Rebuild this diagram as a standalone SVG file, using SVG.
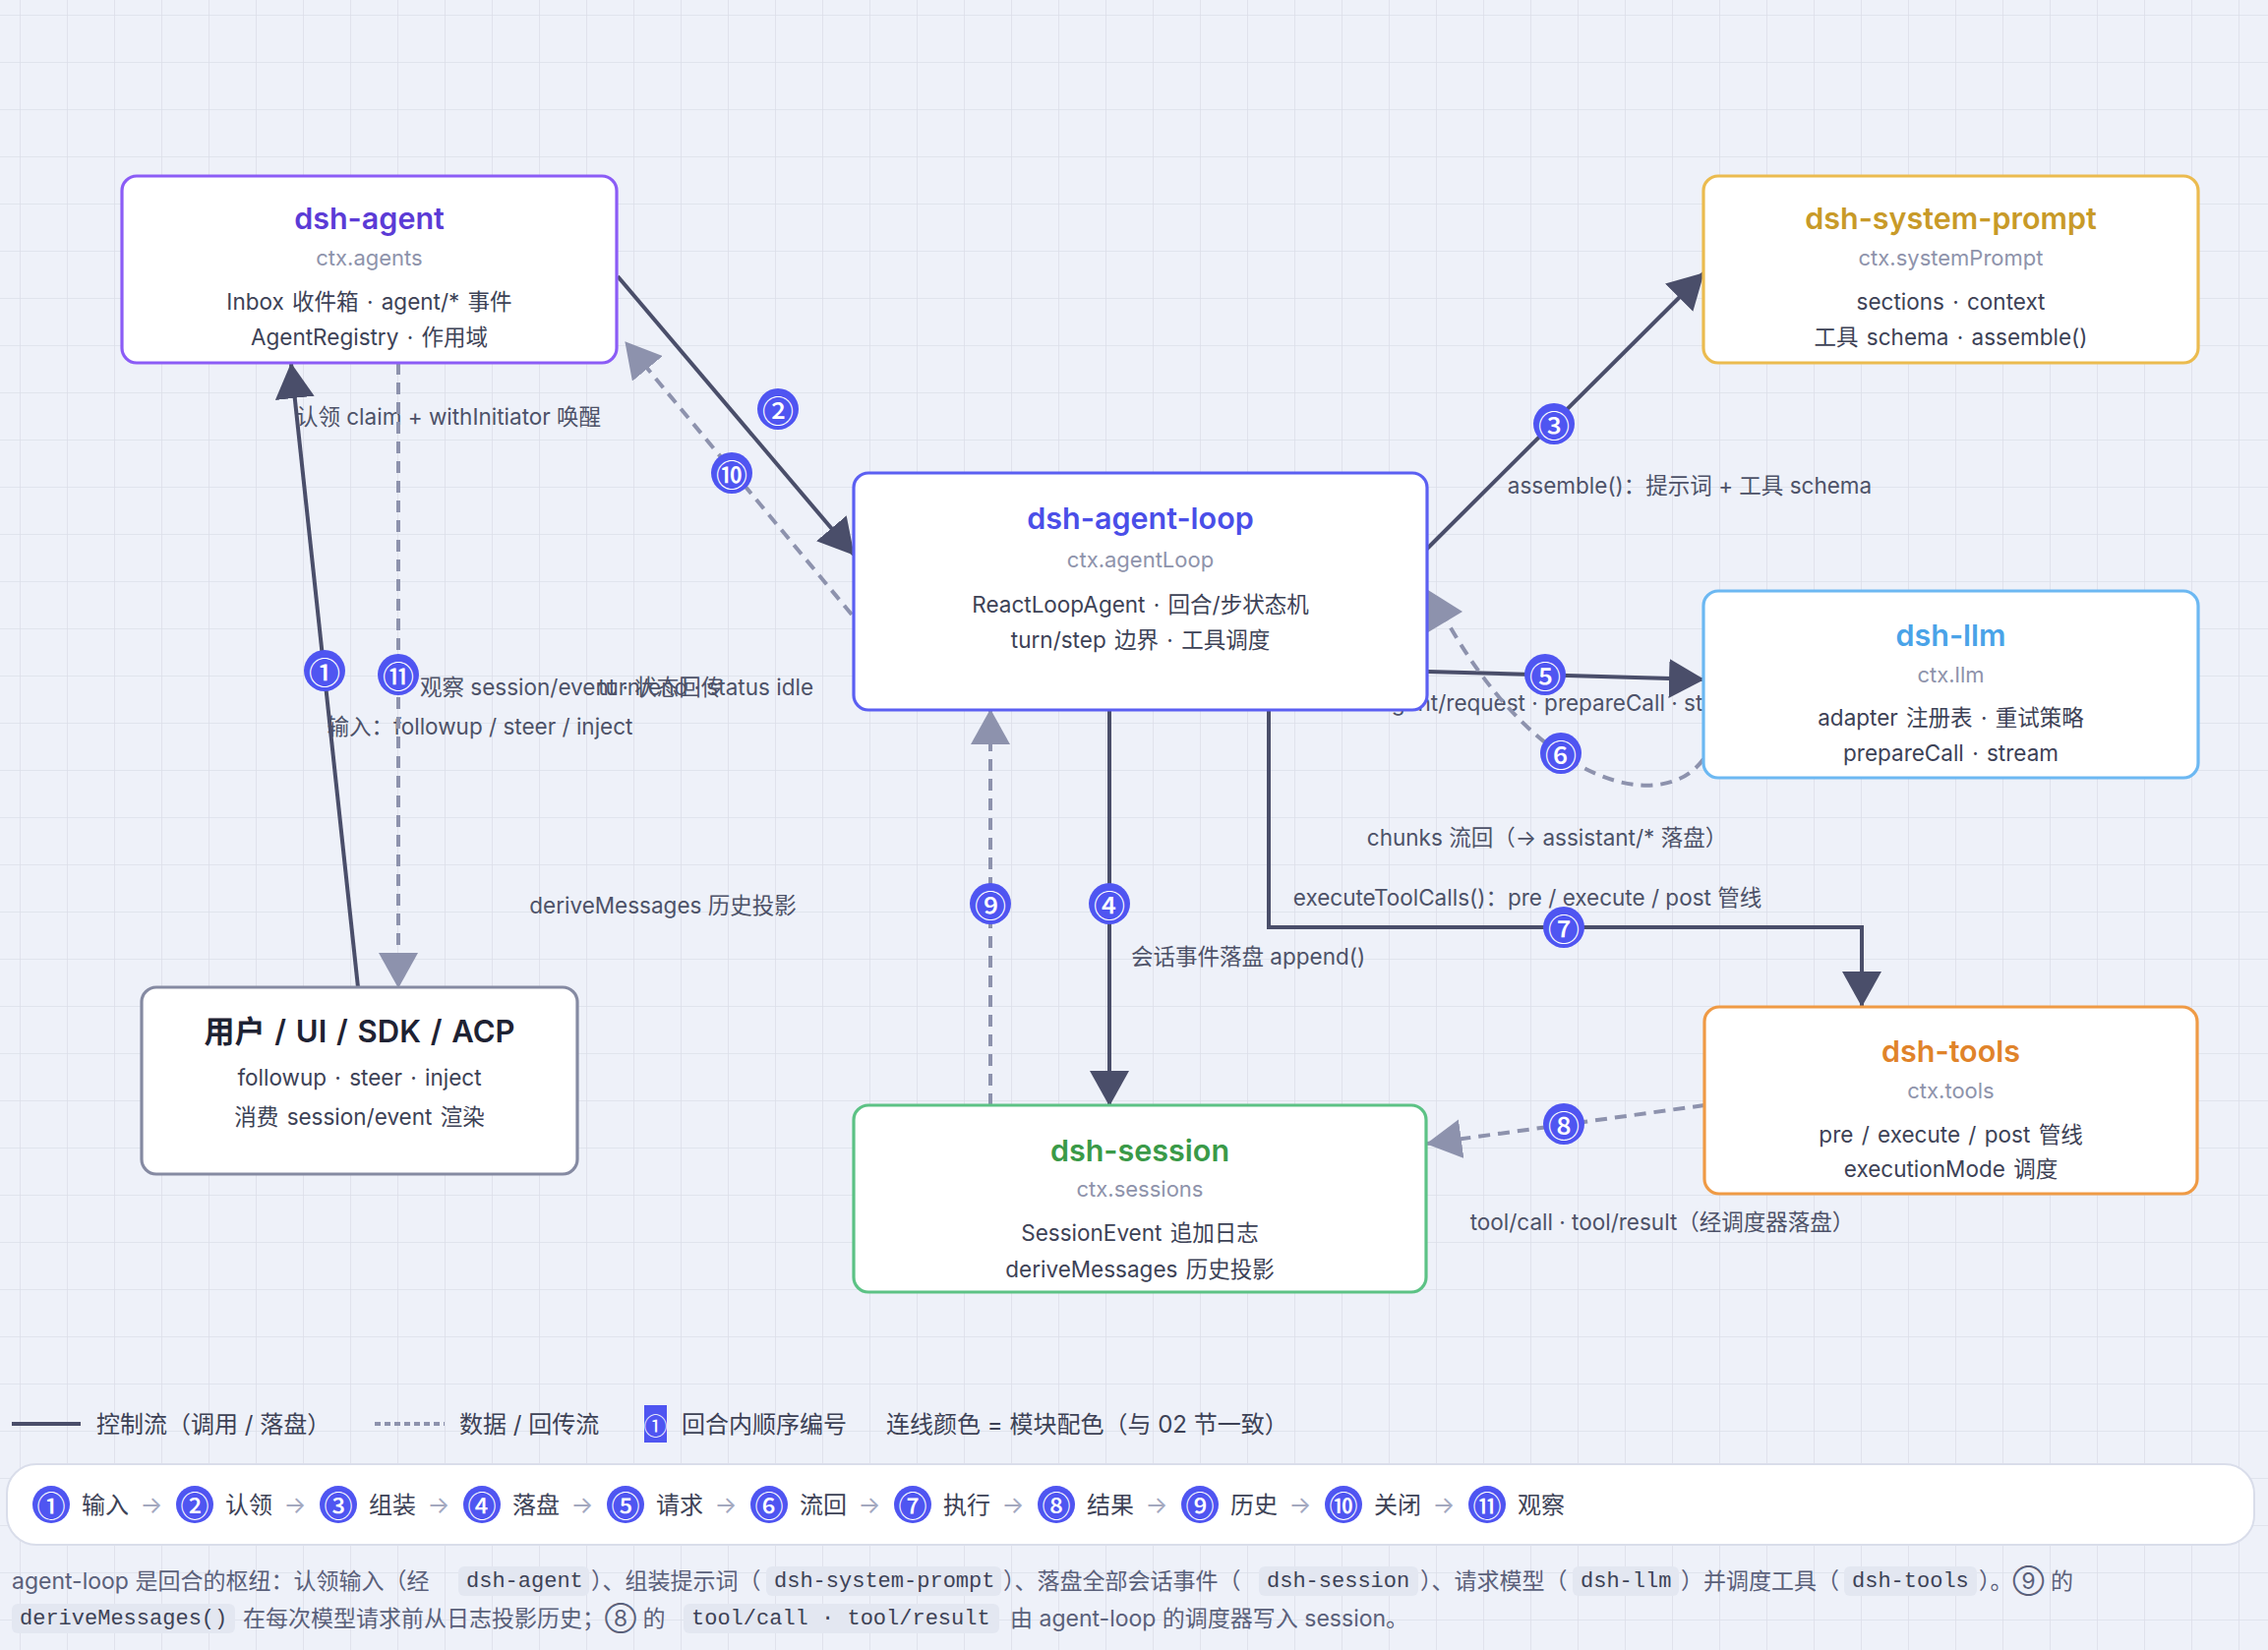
<svg xmlns="http://www.w3.org/2000/svg" width="2306" height="1678" viewBox="0 0 2306 1678">
<defs>
<pattern id="grid" x="20" y="15" width="48" height="48" patternUnits="userSpaceOnUse">
<path d="M48 0 H0 V48" fill="none" stroke="#dcdfe9" stroke-width="1.6"/>
</pattern>
<marker id="ah" markerUnits="userSpaceOnUse" markerWidth="36" markerHeight="40" refX="35" refY="20" orient="auto"><path d="M0,0 L36,20 L0,40 z" fill="#4a4e6a"/></marker>
<marker id="ahd" markerUnits="userSpaceOnUse" markerWidth="36" markerHeight="40" refX="35" refY="20" orient="auto"><path d="M0,0 L36,20 L0,40 z" fill="#8d92ad"/></marker>
<style>
text{font-family:Inter,"Noto Sans CJK SC",sans-serif;dominant-baseline:central}
.box{fill:#ffffff;stroke-width:3.2}
.title{font-size:30.5px;font-weight:600;text-anchor:middle}
.sub{font-size:22px;fill:#8e93ab;text-anchor:middle}
.ln{font-size:22.5px;fill:#3d4256;text-anchor:middle;word-spacing:2px}
.lbl{font-size:22.5px;fill:#4d5268}
.ctl{fill:none;stroke:#4a4e6a;stroke-width:4;marker-end:url(#ah)}
.dat{fill:none;stroke:#8d92ad;stroke-width:4;stroke-dasharray:12 8;marker-end:url(#ahd)}
.bdg circle{fill:#4f55f1}
.bdg text{fill:#ffffff;font-family:"Noto Sans CJK SC",sans-serif;font-size:32px;font-weight:500;text-anchor:middle}
.seq circle{fill:#4f55f1}
.seq .n{fill:#ffffff;font-family:"Noto Sans CJK SC",sans-serif;font-size:29px;font-weight:500;text-anchor:middle}
.seq .t{font-size:24px;fill:#3d4256}
.seq .a{font-size:24px;fill:#a3a8bf;text-anchor:middle}
.leg{font-size:24px;fill:#3d4256}
.p{font-size:23px;fill:#5a607a}
.code{font-family:"Liberation Mono",monospace;font-size:22px;fill:#3d4256}
.cbg{fill:#e3e7f1}
</style>
</defs>
<rect width="2306" height="1678" fill="#eef1f9"/>
<rect width="2306" height="1678" fill="url(#grid)"/>

<g id="labels">
<text class="lbl" x="456" y="423" text-anchor="middle">认领 claim + withInitiator 唤醒</text>
<text class="lbl" x="488" y="738" text-anchor="middle">输入：followup / steer / inject</text>
<text class="lbl" x="427" y="698">观察 session/event · 状态回传</text>
<text class="lbl" x="827" y="698" text-anchor="end">turn/end · status idle</text>
<text class="lbl" x="1718" y="493" text-anchor="middle">assemble()：提示词 + 工具 schema</text>
<text class="lbl" x="1402" y="714">agent/request · prepareCall · stream</text>
<text class="lbl" x="1573" y="851" text-anchor="middle">chunks 流回（→ assistant/* 落盘）</text>
<text class="lbl" x="1553" y="912" text-anchor="middle">executeToolCalls()：pre / execute / post 管线</text>
<text class="lbl" x="674" y="920" text-anchor="middle">deriveMessages 历史投影</text>
<text class="lbl" x="1150" y="972">会话事件落盘 append()</text>
<text class="lbl" x="1690" y="1242" text-anchor="middle">tool/call · tool/result（经调度器落盘）</text>
</g>

<g id="connectors">
<path class="ctl" d="M364,1004 L296,370"/>
<path class="dat" d="M405,369 V1004"/>
<path class="ctl" d="M628,281 L868,564"/>
<path class="dat" d="M866,625 L636,348"/>
<path class="ctl" d="M1450,559 L1732,278"/>
<path class="ctl" d="M1452,683 L1732,691"/>
<path d="M1732,772 C1690,830 1560,800 1463,617" fill="none" stroke="#8d92ad" stroke-width="4" stroke-dasharray="12 8"/>
<polygon points="1452,600 1452,643 1487,622" fill="#8d92ad"/>
<path class="ctl" d="M1128,722 V1124"/>
<path class="dat" d="M1007,1124 V722"/>
<path class="ctl" d="M1290,722 V943 H1893 V1023"/>
<path class="dat" d="M1733,1124 L1451,1163"/>
</g>

<g id="nodes">
<g id="node-agent">
<rect class="box" x="124" y="179" width="503" height="190" rx="15" stroke="#8b5cf6"/>
<text class="title" x="375.5" y="221" fill="#5b3bd6">dsh-agent</text>
<text class="sub" x="375.5" y="262">ctx.agents</text>
<text class="ln" x="375.5" y="306">Inbox 收件箱 · agent/* 事件</text>
<text class="ln" x="375.5" y="342">AgentRegistry · 作用域</text>
</g>
<g id="node-system-prompt">
<rect class="box" x="1732" y="179" width="503" height="190" rx="15" stroke="#ebbb4f"/>
<text class="title" x="1983.5" y="221" fill="#c89a28">dsh-system-prompt</text>
<text class="sub" x="1983.5" y="262">ctx.systemPrompt</text>
<text class="ln" x="1983.5" y="306">sections · context</text>
<text class="ln" x="1983.5" y="342">工具 schema · assemble()</text>
</g>
<g id="node-agent-loop">
<rect class="box" x="868" y="481" width="583" height="241" rx="15" stroke="#5b5ff2"/>
<text class="title" x="1159.5" y="526" fill="#4a4ee8">dsh-agent-loop</text>
<text class="sub" x="1159.5" y="569">ctx.agentLoop</text>
<text class="ln" x="1159.5" y="614">ReactLoopAgent · 回合/步状态机</text>
<text class="ln" x="1159.5" y="650">turn/step 边界 · 工具调度</text>
</g>
<g id="node-llm">
<rect class="box" x="1732" y="601" width="503" height="190" rx="15" stroke="#6cb8f2"/>
<text class="title" x="1983.5" y="645" fill="#4aa3e8">dsh-llm</text>
<text class="sub" x="1983.5" y="686">ctx.llm</text>
<text class="ln" x="1983.5" y="729">adapter 注册表 · 重试策略</text>
<text class="ln" x="1983.5" y="765">prepareCall · stream</text>
</g>
<g id="node-user">
<rect class="box" x="144" y="1004" width="443" height="190" rx="15" stroke="#858aa2"/>
<text class="title" x="365.5" y="1048" fill="#1e2233" style="font-size:31px;word-spacing:2px">用户 / UI / SDK / ACP</text>
<text class="ln" x="365.5" y="1095">followup · steer · inject</text>
<text class="ln" x="365.5" y="1135">消费 session/event 渲染</text>
</g>
<g id="node-tools">
<rect class="box" x="1733" y="1024" width="501" height="190" rx="15" stroke="#ef9a45"/>
<text class="title" x="1983.5" y="1068" fill="#e0832a">dsh-tools</text>
<text class="sub" x="1983.5" y="1109">ctx.tools</text>
<text class="ln" x="1983.5" y="1153">pre / execute / post 管线</text>
<text class="ln" x="1983.5" y="1188">executionMode 调度</text>
</g>
<g id="node-session">
<rect class="box" x="868" y="1124" width="582" height="190" rx="15" stroke="#5cc285"/>
<text class="title" x="1159" y="1169" fill="#3a9a48">dsh-session</text>
<text class="sub" x="1159" y="1209">ctx.sessions</text>
<text class="ln" x="1159" y="1253">SessionEvent 追加日志</text>
<text class="ln" x="1159" y="1290">deriveMessages 历史投影</text>
</g>
</g>

<g id="badges" class="bdg">
<circle cx="330" cy="682" r="21"/><text x="330" y="682">①</text>
<circle cx="791" cy="416" r="21"/><text x="791" y="416">②</text>
<circle cx="1580" cy="431" r="21"/><text x="1580" y="431">③</text>
<circle cx="1128" cy="919" r="21"/><text x="1128" y="919">④</text>
<circle cx="1571" cy="686" r="21"/><text x="1571" y="686">⑤</text>
<circle cx="1587" cy="766" r="21"/><text x="1587" y="766">⑥</text>
<circle cx="1590" cy="943" r="21"/><text x="1590" y="943">⑦</text>
<circle cx="1590" cy="1143" r="21"/><text x="1590" y="1143">⑧</text>
<circle cx="1007" cy="919" r="21"/><text x="1007" y="919">⑨</text>
<circle cx="744" cy="481" r="21"/><text x="744" y="481">⑩</text>
<circle cx="405" cy="686" r="21"/><text x="405" y="686">⑪</text>
</g>

<g id="legend">
<line x1="12" y1="1448" x2="82" y2="1448" stroke="#4a4e6a" stroke-width="4"/>
<text class="leg" x="98" y="1448">控制流（调用 / 落盘）</text>
<line x1="381" y1="1448" x2="452" y2="1448" stroke="#8d92ad" stroke-width="4" stroke-dasharray="6 4"/>
<text class="leg" x="467" y="1448">数据 / 回传流</text>
<rect x="655" y="1429" width="23" height="38" fill="#4f55f1"/>
<text x="666.5" y="1448" fill="#ffffff" font-size="24" text-anchor="middle" style="font-family:'Noto Sans CJK SC',sans-serif">①</text>
<text class="leg" x="693" y="1448">回合内顺序编号</text>
<text class="leg" x="901" y="1448">连线颜色 = 模块配色（与 02 节一致）</text>
</g>

<g id="sequence" class="seq">
<rect x="7" y="1489" width="2285" height="82" rx="30" fill="#ffffff" stroke="#d9ddea" stroke-width="2"/>
<circle cx="52" cy="1530" r="19"/><text class="n" x="52" y="1530">①</text><text class="t" x="83" y="1530">输入</text><text class="a" x="154" y="1530">→</text>
<circle cx="198" cy="1530" r="19"/><text class="n" x="198" y="1530">②</text><text class="t" x="229" y="1530">认领</text><text class="a" x="300" y="1530">→</text>
<circle cx="344" cy="1530" r="19"/><text class="n" x="344" y="1530">③</text><text class="t" x="375" y="1530">组装</text><text class="a" x="446" y="1530">→</text>
<circle cx="490" cy="1530" r="19"/><text class="n" x="490" y="1530">④</text><text class="t" x="521" y="1530">落盘</text><text class="a" x="592" y="1530">→</text>
<circle cx="636" cy="1530" r="19"/><text class="n" x="636" y="1530">⑤</text><text class="t" x="667" y="1530">请求</text><text class="a" x="738" y="1530">→</text>
<circle cx="782" cy="1530" r="19"/><text class="n" x="782" y="1530">⑥</text><text class="t" x="813" y="1530">流回</text><text class="a" x="884" y="1530">→</text>
<circle cx="928" cy="1530" r="19"/><text class="n" x="928" y="1530">⑦</text><text class="t" x="959" y="1530">执行</text><text class="a" x="1030" y="1530">→</text>
<circle cx="1074" cy="1530" r="19"/><text class="n" x="1074" y="1530">⑧</text><text class="t" x="1105" y="1530">结果</text><text class="a" x="1176" y="1530">→</text>
<circle cx="1220" cy="1530" r="19"/><text class="n" x="1220" y="1530">⑨</text><text class="t" x="1251" y="1530">历史</text><text class="a" x="1322" y="1530">→</text>
<circle cx="1366" cy="1530" r="19"/><text class="n" x="1366" y="1530">⑩</text><text class="t" x="1397" y="1530">关闭</text><text class="a" x="1468" y="1530">→</text>
<circle cx="1512" cy="1530" r="19"/><text class="n" x="1512" y="1530">⑪</text><text class="t" x="1543" y="1530">观察</text>
</g>

<g id="note">
<rect class="cbg" x="466" y="1593" width="133" height="30" rx="6"/>
<rect class="cbg" x="779" y="1593" width="239" height="30" rx="6"/>
<rect class="cbg" x="1280" y="1593" width="162" height="30" rx="6"/>
<rect class="cbg" x="1599" y="1593" width="108" height="30" rx="6"/>
<rect class="cbg" x="1875" y="1593" width="135" height="30" rx="6"/>
<text class="p" x="12" y="1608">agent-loop 是回合的枢纽：认领输入（经</text>
<text class="code" x="474" y="1608">dsh-agent</text>
<text class="p" x="601" y="1608">）、组装提示词（</text>
<text class="code" x="787" y="1608">dsh-system-prompt</text>
<text class="p" x="1020" y="1608">）、落盘全部会话事件（</text>
<text class="code" x="1288" y="1608">dsh-session</text>
<text class="p" x="1444" y="1608">）、请求模型（</text>
<text class="code" x="1607" y="1608">dsh-llm</text>
<text class="p" x="1709" y="1608">）并调度工具（</text>
<text class="code" x="1883" y="1608">dsh-tools</text>
<text class="p" x="2012" y="1608">）。⑨ 的</text>
<rect class="cbg" x="12" y="1631" width="227" height="30" rx="6"/>
<rect class="cbg" x="695" y="1631" width="321" height="30" rx="6"/>
<text class="code" x="20" y="1646">deriveMessages()</text>
<text class="p" x="247" y="1646">在每次模型请求前从日志投影历史；⑧ 的</text>
<text class="code" x="703" y="1646">tool/call · tool/result</text>
<text class="p" x="1027" y="1646">由 agent-loop 的调度器写入 session。</text>
</g>
</svg>
